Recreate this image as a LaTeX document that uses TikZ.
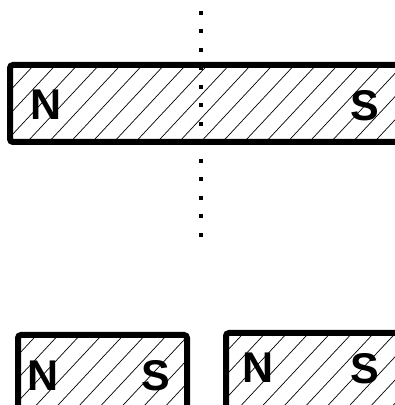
\documentclass[tikz,border=0pt]{standalone}
\usepackage{fontspec}
\setmainfont{Liberation Sans}
\usepackage{tikz}

\tikzset{
  magnet/.style={line width=6pt, rounded corners=3pt},
  hatch/.style={line width=0.7pt},
  pole/.style={font=\fontsize{43}{43}\selectfont\bfseries, anchor=base, inner sep=0pt}
}

\begin{document}
\begin{tikzpicture}[x=1pt,y=1pt]
  \useasboundingbox (0,0) rectangle (395,405);

  % Großer Magnet oben (rechts abgeschnitten)
  \begin{scope}
    \clip (10,263) rectangle (400,340);
    \foreach \k in {-6,...,20}
      \draw[hatch] ({72.7+21.7*\k-100},{335-100*1.07}) -- ++({2*100},{2*100*1.07});
  \end{scope}
  \draw[magnet] (410,340) -- (10,340) -- (10,263) -- (410,263);

  % Magnet unten links
  \begin{scope}
    \clip (18,0) rectangle (187,70);
    \foreach \k in {-6,...,12}
      \draw[hatch] ({33+21.7*\k-100},{66-100*1.07}) -- ++({2*100},{2*100*1.07});
  \end{scope}
  \draw[magnet] (18,-10) -- (18,70) -- (187,70) -- (187,-10);

  % Magnet unten rechts (rechts abgeschnitten)
  \begin{scope}
    \clip (226,0) rectangle (400,72);
    \foreach \k in {-6,...,12}
      \draw[hatch] ({240+21.7*\k-100},{68-100*1.07}) -- ++({2*100},{2*100*1.07});
  \end{scope}
  \draw[magnet] (226,-10) -- (226,72) -- (410,72);

  % Pole
  \node[pole] (N1) at (46.5,285) {N};
  \node[pole] (S1) at (365,284) {S};
  \node[pole] (N2) at (43.5,15) {N};
  \node[pole] (S2) at (156,14) {S};
  \node[pole] (N3) at (258.5,22) {N};
  \node[pole] (S3) at (365,21) {S};

  % gepunktete Mittellinie
  \foreach \k in {0,...,12}
    \fill (199,{390-18.5*\k}) rectangle +(4,4);
\end{tikzpicture}
\end{document}
